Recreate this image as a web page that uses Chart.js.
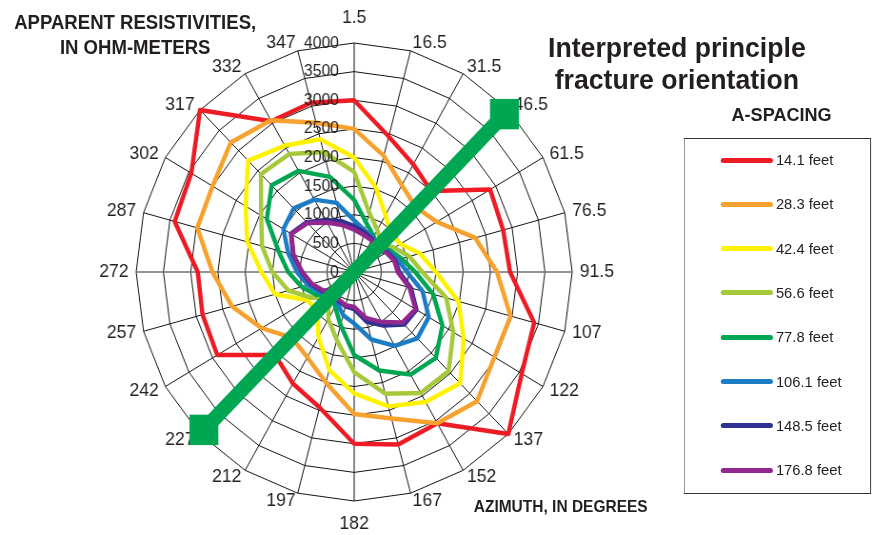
<!DOCTYPE html>
<html lang="en">
  <head>
    <meta charset="UTF-8" />
    <title>Apparent resistivities by azimuth</title>
    <script src="https://cdn.jsdelivr.net/npm/chart.js"></script>
    <style>
      html,
      body {
        margin: 0;
        padding: 0;
        width: 874px;
        height: 535px;
        overflow: hidden;
        background: #fff;
        color: #231f20;
        font-family: "Liberation Sans", Arial, sans-serif;
      }
      /* the original picture is squeezed a little sideways, so the whole page is too */
      #page {
        position: absolute;
        left: 0;
        top: 0;
        width: 918px;
        height: 535px;
        transform: scaleX(0.952);
        transform-origin: 0 0;
      }
      #chart {
        position: absolute;
        left: 0;
        top: 0;
      }
      .txt {
        position: absolute;
        font-weight: bold;
        text-align: center;
        white-space: nowrap;
      }
      #yTitle {
        left: 0;
        width: 284px;
        top: 10px;
        font-size: 19.5px;
        line-height: 25px;
      }
      #mainTitle {
        left: 561px;
        width: 300px;
        top: 32px;
        font-size: 28px;
        line-height: 32px;
      }
      #legendTitle {
        left: 721px;
        width: 200px;
        top: 104px;
        font-size: 19px;
        line-height: 22px;
      }
      #xTitle {
        left: 489px;
        width: 200px;
        top: 496px;
        font-size: 16.3px;
        line-height: 20px;
      }
      #legend {
        position: absolute;
        left: 718px;
        top: 138px;
        width: 197px;
        height: 356px;
        border: 1px solid #333;
        box-sizing: border-box;
      }
      .item {
        position: absolute;
        left: 0;
        height: 20px;
        width: 100%;
      }
      .item i {
        position: absolute;
        left: 38px;
        top: 7.5px;
        width: 55px;
        height: 5px;
        border-radius: 3px;
      }
      .item span {
        position: absolute;
        left: 96px;
        top: 0;
        font-size: 15.5px;
        line-height: 20px;
      }
    </style>
  </head>
  <body>
    <div id="page">
      <canvas id="chart" width="744" height="535"></canvas>
      <div class="txt" id="yTitle">APPARENT RESISTIVITIES,<br />IN OHM-METERS</div>
      <div class="txt" id="mainTitle">Interpreted principle<br />fracture orientation</div>
      <div class="txt" id="legendTitle">A-SPACING</div>
      <div class="txt" id="xTitle">AZIMUTH, IN DEGREES</div>
      <div id="legend"></div>
    </div>

    <script>
      // azimuth of each spoke, clockwise from the top
      const azimuths = ["1.5", "16.5", "31.5", "46.5", "61.5", "76.5", "91.5", "107", "122", "137", "152", "167",
        "182", "197", "212", "227", "242", "257", "272", "287", "302", "317", "332", "347"];

      const radialTicks = [0, 500, 1000, 1500, 2000, 2500, 3000, 3500, 4000];

      // apparent resistivity (ohm-m) per a-spacing, one value per azimuth
      const a14_1 = [3000, 2450, 2170, 2000, 2880, 2830, 2860, 3420, 3550, 4000, 3050, 3120,
        3000, 2450, 2250, 2050, 2900, 2880, 2870, 3410, 3450, 4000, 3040, 3060];
      const a28_3 = [2500, 2100, 1750, 1600, 1750, 2300, 2620, 2970, 2970, 3190, 3050, 2650,
        2480, 2000, 1720, 1620, 1960, 2320, 2600, 2980, 3000, 3200, 3060, 2700];
      const a42_4 = [2000, 1530, 1150, 950, 980, 1250, 1500, 1980, 2320, 2750, 2620, 2430,
        2120, 1770, 1310, 950, 990, 1500, 1700, 2030, 2300, 2750, 2550, 2400];
      const a56_6 = [1750, 1070, 850, 700, 850, 1050, 1250, 1750, 2100, 2450, 2440, 2200,
        1750, 1230, 950, 650, 900, 1250, 1500, 1750, 1970, 2420, 2380, 2170];
      const a77_8 = [1260, 880, 720, 600, 760, 900, 1120, 1500, 1870, 2120, 2070, 1780,
        1450, 960, 700, 520, 800, 1000, 1210, 1440, 1850, 2140, 2040, 1720];
      const a106_1 = [900, 750, 690, 560, 720, 830, 970, 1300, 1580, 1640, 1490, 1220,
        900, 780, 620, 500, 720, 880, 1050, 1250, 1500, 1570, 1460, 1250];
      const a148_5 = [800, 720, 660, 550, 700, 780, 830, 1080, 1320, 1300, 1080, 900,
        650, 620, 580, 460, 670, 820, 960, 1160, 1340, 1230, 1050, 920];
      const a176_8 = [740, 670, 640, 550, 680, 760, 800, 1050, 1300, 1250, 1010, 830,
        610, 600, 560, 450, 650, 800, 950, 1150, 1330, 1210, 1000, 850];

      const seriesNames = ["14.1 feet", "28.3 feet", "42.4 feet", "56.6 feet", "77.8 feet", "106.1 feet", "148.5 feet", "176.8 feet"];
      const seriesValues = [a14_1, a28_3, a42_4, a56_6, a77_8, a106_1, a148_5, a176_8];
      const seriesColors = ["#ed1c24", "#f7a12e", "#fff200", "#a6c93c", "#00a651", "#1c7cc4", "#2e3192", "#92278f"];

      // interpreted fracture orientation, drawn between these two azimuths
      const fractureAzimuths = ["46.5", "227"];
      const fractureReach = 3900;

      const ink = "#231f20";
      const fontFamily = '"Liberation Sans", Arial, sans-serif';

      // spoke labels just outside the outer ring, and tick values left of the 1.5 spoke
      const radarText = {
        id: "radarText",
        beforeDatasetsDraw(chart) {
          const r = chart.scales.r;
          const ctx = chart.ctx;
          ctx.save();
          ctx.font = "18.5px " + fontFamily;
          ctx.fillStyle = ink;
          ctx.textBaseline = "middle";
          azimuths.forEach((label, i) => {
            const p = r.getPointPosition(i, r.drawingArea + 8);
            const a = r.getIndexAngle(i);
            const s = Math.sin(a);
            const c = Math.cos(a);
            let y = p.y;
            if (Math.abs(s) < 0.01) {
              ctx.textAlign = "center";
              y += c > 0 ? -17 : 15;
            } else {
              ctx.textAlign = s > 0 ? "left" : "right";
            }
            ctx.fillText(label, p.x, y);
          });
          ctx.restore();
        },
        afterDatasetsDraw(chart) {
          const r = chart.scales.r;
          const ctx = chart.ctx;
          ctx.save();
          ctx.font = "16.5px " + fontFamily;
          ctx.fillStyle = ink;
          ctx.textAlign = "right";
          ctx.textBaseline = "middle";
          radialTicks.forEach((v) => {
            const d = r.getDistanceFromCenterForValue(v);
            ctx.fillText(String(v), r.xCenter - 16, r.yCenter - d);
          });
          ctx.restore();
        },
      };

      const datasets = seriesNames.map((name, i) => ({
        label: name,
        data: seriesValues[i],
        borderColor: seriesColors[i],
        backgroundColor: seriesColors[i],
        borderWidth: 4.5,
        borderJoinStyle: "round",
        pointRadius: 0,
        fill: false,
        order: 20 - i,
      }));

      datasets.push({
        label: "Interpreted principle fracture orientation",
        data: azimuths.map((a) => (fractureAzimuths.includes(a) ? fractureReach : null)),
        borderColor: "#00a651",
        backgroundColor: "#00a651",
        borderWidth: 15,
        pointStyle: "rect",
        pointRadius: 21.5,
        pointBorderWidth: 0,
        spanGaps: true,
        fill: false,
        order: 0,
      });

      new Chart(document.getElementById("chart"), {
        type: "radar",
        data: { labels: azimuths, datasets: datasets },
        options: {
          responsive: false,
          devicePixelRatio: 1,
          animation: false,
          events: [],
          layout: { padding: { top: 43, bottom: 34, left: 0, right: 0 } },
          plugins: {
            legend: { display: false },
            tooltip: { enabled: false },
          },
          scales: {
            r: {
              min: 0,
              max: 4000,
              ticks: { stepSize: 500, display: false },
              pointLabels: { display: false },
              grid: { color: "#111", lineWidth: 1 },
              angleLines: {
                color: (c) => (c.index % 12 === 6 ? "#707070" : "#111"),
                lineWidth: (c) => (c.index % 12 === 6 ? 1.6 : 1),
              },
            },
          },
        },
        plugins: [radarText],
      });

      // boxed legend on the right
      const legend = document.getElementById("legend");
      seriesNames.forEach((name, i) => {
        const row = document.createElement("div");
        row.className = "item";
        row.style.top = 11 + i * 44.3 + "px";
        row.innerHTML = '<i style="background:' + seriesColors[i] + '"></i><span>' + name + "</span>";
        legend.appendChild(row);
      });
    </script>
  </body>
</html>
